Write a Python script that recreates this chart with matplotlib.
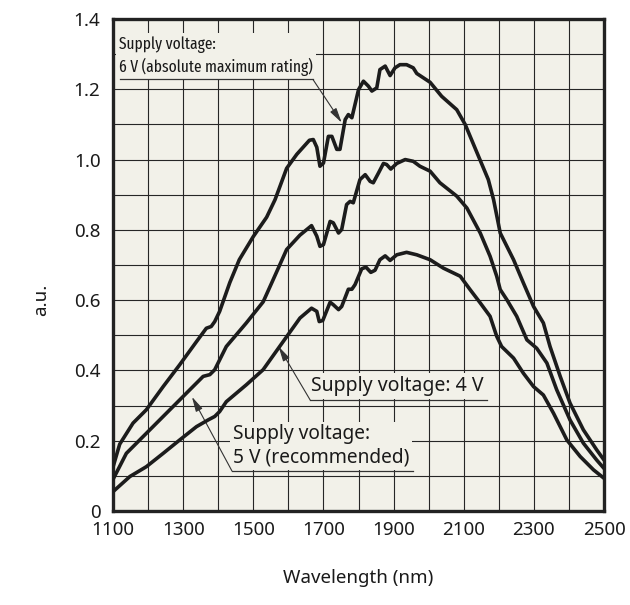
import matplotlib
matplotlib.use("Agg")
import matplotlib.pyplot as plt
from matplotlib import font_manager as fm

# ---------------- data ----------------
wl_6v = [1100, 1119, 1157, 1195, 1243, 1290, 1338, 1366, 1380, 1390, 1404, 1433, 1460, 1500,
         1538, 1562, 1595, 1624, 1660, 1671, 1681, 1690, 1700, 1714, 1724, 1738, 1747, 1762,
         1771, 1781, 1800, 1814, 1828, 1838, 1852, 1861, 1876, 1890, 1904, 1918, 1937, 1956,
         1966, 2004, 2037, 2080, 2104, 2146, 2170, 2185, 2204, 2242, 2270, 2299, 2327, 2346,
         2375, 2403, 2441, 2479, 2500]
val_6v = [0.125, 0.190, 0.250, 0.288, 0.354, 0.416, 0.482, 0.520, 0.525, 0.539, 0.568, 0.650,
          0.715, 0.781, 0.836, 0.886, 0.975, 1.015, 1.055, 1.057, 1.035, 0.981, 0.990, 1.066,
          1.066, 1.029, 1.029, 1.114, 1.128, 1.119, 1.199, 1.223, 1.209, 1.195, 1.204, 1.256,
          1.266, 1.239, 1.261, 1.270, 1.270, 1.261, 1.245, 1.220, 1.180, 1.142, 1.100, 1.000,
          0.943, 0.886, 0.791, 0.715, 0.649, 0.582, 0.535, 0.468, 0.383, 0.307, 0.231, 0.174,
          0.145]

wl_5v = [1100, 1138, 1195, 1243, 1290, 1328, 1357, 1376, 1390, 1404, 1423, 1480, 1528, 1556,
         1595, 1633, 1666, 1681, 1690, 1700, 1719, 1728, 1743, 1752, 1766, 1776, 1785, 1804,
         1819, 1833, 1842, 1857, 1871, 1880, 1892, 1909, 1933, 1956, 1975, 2004, 2032, 2080,
         2109, 2147, 2175, 2194, 2204, 2223, 2251, 2280, 2308, 2337, 2365, 2403, 2441, 2479,
         2500]
val_5v = [0.090, 0.164, 0.221, 0.269, 0.316, 0.354, 0.383, 0.388, 0.402, 0.430, 0.468, 0.535,
          0.595, 0.657, 0.744, 0.785, 0.812, 0.782, 0.753, 0.758, 0.824, 0.820, 0.791, 0.801,
          0.872, 0.881, 0.877, 0.943, 0.957, 0.938, 0.934, 0.962, 0.989, 0.986, 0.973, 0.989,
          1.000, 0.995, 0.981, 0.967, 0.934, 0.896, 0.862, 0.791, 0.725, 0.668, 0.630, 0.601,
          0.554, 0.487, 0.463, 0.421, 0.345, 0.259, 0.193, 0.145, 0.121]

wl_4v = [1100, 1148, 1195, 1243, 1290, 1338, 1371, 1390, 1404, 1423, 1480, 1528, 1575, 1623,
         1633, 1666, 1681, 1688, 1698, 1719, 1728, 1743, 1752, 1771, 1781, 1790, 1809, 1821,
         1835, 1847, 1861, 1876, 1890, 1909, 1937, 1966, 2004, 2042, 2090, 2118, 2147, 2175,
         2194, 2208, 2242, 2270, 2299, 2327, 2356, 2394, 2432, 2470, 2500]
val_4v = [0.055, 0.098, 0.126, 0.164, 0.202, 0.240, 0.259, 0.269, 0.283, 0.311, 0.359, 0.402,
          0.468, 0.535, 0.549, 0.577, 0.568, 0.539, 0.542, 0.594, 0.587, 0.573, 0.582, 0.631,
          0.631, 0.644, 0.689, 0.694, 0.679, 0.685, 0.715, 0.726, 0.713, 0.729, 0.736, 0.729,
          0.715, 0.691, 0.668, 0.630, 0.592, 0.554, 0.497, 0.468, 0.435, 0.392, 0.354, 0.330,
          0.278, 0.202, 0.155, 0.117, 0.093]

x_ticks = [1100, 1300, 1500, 1700, 1900, 2100, 2300, 2500]
y_ticks = [0, 0.2, 0.4, 0.6, 0.8, 1.0, 1.2, 1.4]
y_tick_labels = ["0", "0.2", "0.4", "0.6", "0.8", "1.0", "1.2", "1.4"]

label_6v = "Supply voltage:\n6 V (absolute maximum rating)"
label_5v = "Supply voltage:\n5 V (recommended)"
label_4v = "Supply voltage: 4 V"
x_label = "Wavelength (nm)"
y_label = "a.u."

# ---------------- style ----------------
BG = "#f2f1e9"
INK = "#1c1c1c"
TXT = "#1a1a1a"

fonts = fm.fontManager.ttflist
names = {f.name for f in fonts}
main_font = "Noto Sans" if "Noto Sans" in names else "DejaVu Sans"


def narrow_rank(f):
    key = (f.name + " " + f.fname).lower().replace(" ", "").replace("-", "")
    if "mono" in key or "serif" in key or "italic" in key or "bold" in key \
            or "light" in key or "thin" in key or "medium" in key or "black" in key:
        return None
    if f.style != "normal" or f.weight not in (400, "normal", "regular"):
        return None
    if "ultracondensed" in key:
        return 1
    if "extracondensed" in key:
        return 0
    if "semicondensed" in key:
        return 4
    if "condensed" in key:
        return 2
    if "narrow" in key:
        return 3
    return None


cands = [(narrow_rank(f), f) for f in fonts]
cands = [c for c in cands if c[0] is not None]
cands.sort(key=lambda c: c[0])
if cands:
    narrow_prop = fm.FontProperties(fname=cands[0][1].fname)
else:
    narrow_prop = fm.FontProperties(family="Roboto" if "Roboto" in names else main_font)

plt.rcParams["font.family"] = [main_font, "DejaVu Sans"]

fig = plt.figure(figsize=(6.30, 6.05), dpi=100)
ax = fig.add_axes([0.1794, 0.1554, 0.7794, 0.8132])
ax.set_facecolor(BG)
ax.set_xlim(1100, 2500)
ax.set_ylim(0, 1.4)

ax.set_xticks(x_ticks)
ax.set_yticks(y_ticks)
ax.set_yticklabels(y_tick_labels)
ax.set_xticks(range(1100, 2501, 100), minor=True)
ax.set_yticks([i / 10 for i in range(0, 15)], minor=True)
ax.tick_params(which="both", length=0, labelsize=13.5, colors=TXT)
ax.tick_params(axis="x", pad=7)
ax.tick_params(axis="y", pad=9)

ax.grid(which="both", color="#262626", linewidth=0.8)
ax.set_axisbelow(True)
for s in ax.spines.values():
    s.set_linewidth(2.4)
    s.set_color("#222222")

for wl, v in [(wl_6v, val_6v), (wl_5v, val_5v), (wl_4v, val_4v)]:
    ax.plot(wl, v, color=INK, linewidth=2.6, solid_joinstyle="round",
            solid_capstyle="round", zorder=4)

box = dict(facecolor=BG, edgecolor="none", pad=2)
arrow = dict(arrowstyle="-|>,head_length=0.9,head_width=0.22", color="#333333", lw=0.8,
             shrinkA=0, shrinkB=0)

# 6 V label
t6 = ax.text(1118, 1.238, label_6v, fontproperties=narrow_prop, fontsize=11.5, color=TXT,
             ha="left", va="bottom", linespacing=1.35, bbox=box, zorder=2)
ax.plot([1120, 1670], [1.228, 1.228], color="#333333", lw=0.9, zorder=3)
ax.annotate("", xy=(1752, 1.105), xytext=(1670, 1.228), arrowprops=arrow, zorder=3)

# 4 V label
t4 = ax.text(1665, 0.328, label_4v, fontsize=13, color=TXT, ha="left", va="bottom",
             bbox=box, zorder=2)
ax.plot([1662, 2166], [0.316, 0.316], color="#333333", lw=0.9, zorder=3)
ax.annotate("", xy=(1572, 0.468), xytext=(1662, 0.316), arrowprops=arrow, zorder=3)

# 5 V label
t5 = ax.text(1441, 0.124, label_5v, fontsize=13, color=TXT, ha="left", va="bottom",
             linespacing=1.2, bbox=box, zorder=2)
ax.plot([1439, 1955], [0.114, 0.114], color="#333333", lw=0.9, zorder=3)
ax.annotate("", xy=(1325, 0.325), xytext=(1439, 0.114), arrowprops=arrow, zorder=3)

tx = fig.text(0.5690, 0.045, x_label, ha="center", va="center", fontsize=13.5, color=TXT)
fig.text(0.066, 0.505, y_label, ha="center", va="center", rotation=90, fontsize=13.5,
         color=TXT)

# fit annotation text widths to the reference layout
renderer = fig.canvas.get_renderer()
for t, target in [(t6, 193), (t4, 173), (t5, 178)]:
    w = t.get_window_extent(renderer).width
    if w > 0:
        t.set_fontsize(t.get_fontsize() * target / w)

fig.savefig("out.png", dpi=100, facecolor="white")
